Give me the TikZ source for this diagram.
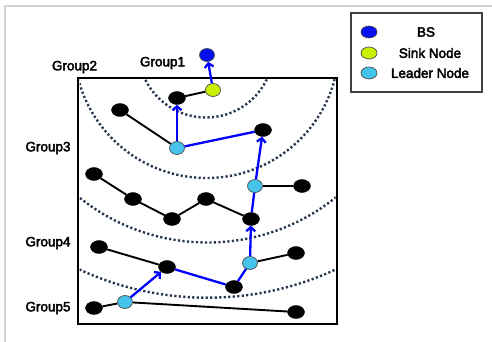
\documentclass[tikz,border=0pt]{standalone}
\usepackage{fontspec}
\newfontfamily\lab{Liberation Sans}[FakeBold=3]
\usetikzlibrary{shapes.geometric,arrows.meta}
\definecolor{bscol}{RGB}{5,15,240}
\definecolor{sinkcol}{RGB}{200,240,0}
\definecolor{leadcol}{RGB}{70,195,235}
\definecolor{dotcol}{RGB}{40,55,80}
\definecolor{framecol}{RGB}{210,210,210}
\begin{document}
\begin{tikzpicture}[x=1pt,y=-1pt,
  blk/.style={ellipse,draw=black,fill=black,minimum width=17pt,minimum height=13pt,inner sep=0pt},
  clr/.style={ellipse,draw=black!70,line width=0.7pt,minimum width=15pt,minimum height=13pt,inner sep=0pt},
  bsnode/.style={clr,fill=bscol},
  sinknode/.style={clr,fill=sinkcol},
  leadnode/.style={clr,fill=leadcol},
  lgd/.style={ellipse,draw=black!70,line width=0.7pt,minimum width=16pt,minimum height=12pt,inner sep=0pt},
  blkline/.style={draw=black,line width=1.9pt},
  bluline/.style={draw=blue,line width=2.3pt},
  bluarrow/.style={bluline,-{Straight Barb[length=4pt,width=9pt]}},
  ring/.style={draw=dotcol,line width=2.4pt,dash pattern=on 2.2pt off 2.3pt},
  txt/.style={font=\lab\fontsize{13.5}{15}\selectfont,inner sep=0pt,text=black}]
\useasboundingbox (0,0) rectangle (492,342);
% faint outer frame
\draw[framecol,line width=1.5pt] (5,342) -- (5,6) -- (492,6);
% dotted group boundaries
\begin{scope}
  \clip (79.5,79.5) rectangle (335.5,322.5);
  \draw[ring] (206,50) circle (67.5pt);
  \draw[ring] (206.5,45.5) circle (132.5pt);
  \draw[ring] (207.5,37.6) circle (204.9pt);
  \draw[ring] (207.5,-6.3) circle (304pt);
\end{scope}
% main field
\draw[black,line width=2.4pt] (78,78) rectangle (337,324);
% nodes
\node[bsnode] (bs) at (207,55) {};
\node[sinknode] (sink) at (213,90) {};
\node[blk] (a) at (177,98) {};
\node[blk] (b) at (120,110) {};
\node[leadnode] (l1) at (177,148) {};
\node[blk] (c) at (263,130) {};
\node[leadnode] (l2) at (255,186) {};
\node[blk] (d) at (302,186) {};
\node[blk] (m1) at (94,174) {};
\node[blk] (m2) at (133,199) {};
\node[blk] (m3) at (172,219) {};
\node[blk] (m4) at (206,199) {};
\node[blk] (e) at (251,219) {};
\node[blk] (j) at (99,247) {};
\node[blk] (i) at (167,267) {};
\node[blk] (h) at (234,287) {};
\node[leadnode] (l3) at (250,263) {};
\node[blk] (f) at (296,253) {};
\node[leadnode] (l4) at (125,302) {};
\node[blk] (k) at (94,308) {};
\node[blk] (g) at (296,312) {};
% black links
\draw[blkline] (a) -- (sink);
\draw[blkline] (b) -- (l1);
\draw[blkline] (l2) -- (d);
\draw[blkline] (m1) -- (m2) -- (m3) -- (m4) -- (e);
\draw[blkline] (j) -- (i);
\draw[blkline] (l3) -- (f);
\draw[blkline] (k) -- (l4);
\draw[blkline] (l4) -- (g);
% blue route
\draw[bluarrow] (sink) -- (bs);
\draw[bluarrow] (l1) -- (a);
\draw[bluline] (l1) -- (c);
\draw[bluarrow] (l2) -- (c);
\draw[bluline] (e) -- (l2);
\draw[bluarrow] (l3) -- (e);
\draw[bluline] (h) -- (l3);
\draw[bluline] (i) -- (h);
\draw[bluarrow] (l4) -- (i);
% group labels
\node[txt] (g1) at (162.5,63) {Group1};
\node[txt] (g2) at (74.5,67) {Group2};
\node[txt] (g3) at (48,148) {Group3};
\node[txt] (g4) at (48,243) {Group4};
\node[txt] (g5) at (48,308) {Group5};
% legend
\draw[black!75,line width=1.2pt] (351,13) rectangle (482,92);
\node[lgd,fill=bscol] (lg1) at (369,32) {};
\node[lgd,fill=sinkcol] (lg2) at (369,53) {};
\node[lgd,fill=leadcol] (lg3) at (369,73) {};
\node[txt] (lt1) at (426,32) {BS};
\node[txt] (lt2) at (430,53) {Sink Node};
\node[txt] (lt3) at (430,73) {Leader Node};
\end{tikzpicture}
\end{document}
